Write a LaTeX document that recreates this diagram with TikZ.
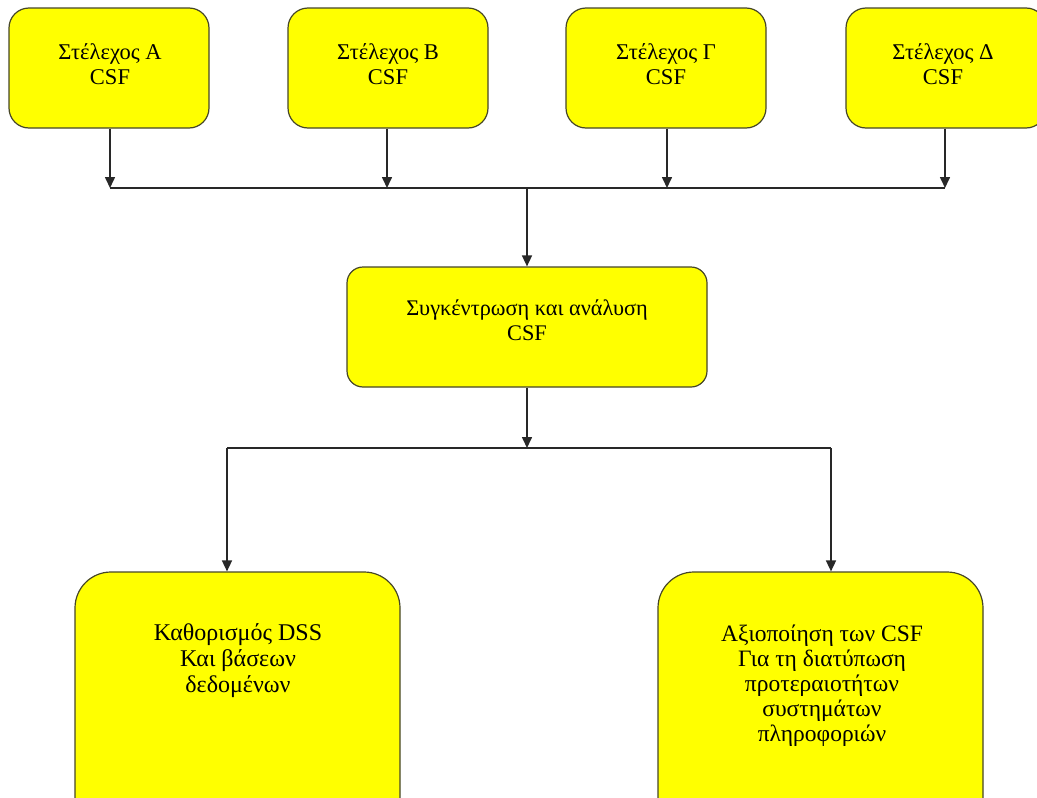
\documentclass[tikz,border=0pt]{standalone}
\usepackage{fontspec}
\setmainfont{Liberation Serif}
\usetikzlibrary{arrows.meta}
\definecolor{boxfill}{RGB}{255,255,0}
\definecolor{boxline}{RGB}{70,70,40}
\definecolor{wire}{RGB}{40,40,40}
\begin{document}
\begin{tikzpicture}[x=1pt,y=-1pt,
  box/.style={draw=boxline, fill=boxfill, line width=1.2pt, rounded corners=#1, inner sep=0pt},
  box/.default=20pt,
  txt/.style={align=center, inner sep=0pt, font=\fontsize{22.5}{24.5}\selectfont},
  wireline/.style={draw=wire, line width=1.6pt},
  arr/.style={wireline, -{Triangle[length=11pt,width=10pt]}}
]
\useasboundingbox (0,0) rectangle (1037,798);
\clip (0,0) rectangle (1037,798);

% top row of managers
\node[box, minimum width=200pt, minimum height=120pt] (sA) at (109,68) {};
\node[box, minimum width=200pt, minimum height=120pt] (sB) at (388,68) {};
\node[box, minimum width=200pt, minimum height=120pt] (sG) at (666,68) {};
\node[box, minimum width=200pt, minimum height=120pt] (sD) at (946,68) {};
\node[txt] (tA) at (110,64) {Στέλεχος Α\\CSF};
\node[txt] (tB) at (388,64) {Στέλεχος Β\\CSF};
\node[txt] (tG) at (666,64) {Στέλεχος Γ\\CSF};
\node[txt] (tD) at (943,64) {Στέλεχος Δ\\CSF};

% collection box
\node[box=16pt, minimum width=360pt, minimum height=120pt] (mid) at (527,327) {};
\node[txt, font=\fontsize{22.3}{25.5}\selectfont] (tmid) at (527,320) {Συγκέντρωση και ανάλυση\\CSF};

% bottom outcomes
\node[box=36pt, minimum width=325pt, minimum height=260pt] (bL) at (237.5,702) {};
\node[box=36pt, minimum width=325pt, minimum height=260pt] (bR) at (820.5,702) {};
\node[txt, font=\fontsize{24}{26}\selectfont] (tL) at (238,661) {Καθορισμός DSS\\Και βάσεων\\δεδομένων};
\node[txt, font=\fontsize{23.5}{25}\selectfont] (tR) at (822,686) {Αξιοποίηση των CSF\\Για τη διατύπωση\\προτεραιοτήτων\\συστημάτων\\πληροφοριών};

% collecting bus
\coordinate (busA) at (110,188);
\coordinate (busB) at (387,188);
\coordinate (busG) at (667,188);
\coordinate (busD) at (945,188);
\coordinate (busC) at (527,188);
\draw[wireline] (busA) -- (busD);
\draw[arr] (sA.south -| busA) -- (busA);
\draw[arr] (sB.south -| busB) -- (busB);
\draw[arr] (sG.south -| busG) -- (busG);
\draw[arr] (sD.south -| busD) -- (busD);
\draw[arr] (busC) -- (mid.north -| busC);

% splitting bus
\coordinate (spC) at (527,448);
\coordinate (spL) at (227,448);
\coordinate (spR) at (831,448);
\draw[arr] (mid.south -| spC) -- (spC);
\draw[wireline] (spL) -- (spR);
\draw[arr] (spL) -- (bL.north -| spL);
\draw[arr] (spR) -- (bR.north -| spR);
\end{tikzpicture}
\end{document}
